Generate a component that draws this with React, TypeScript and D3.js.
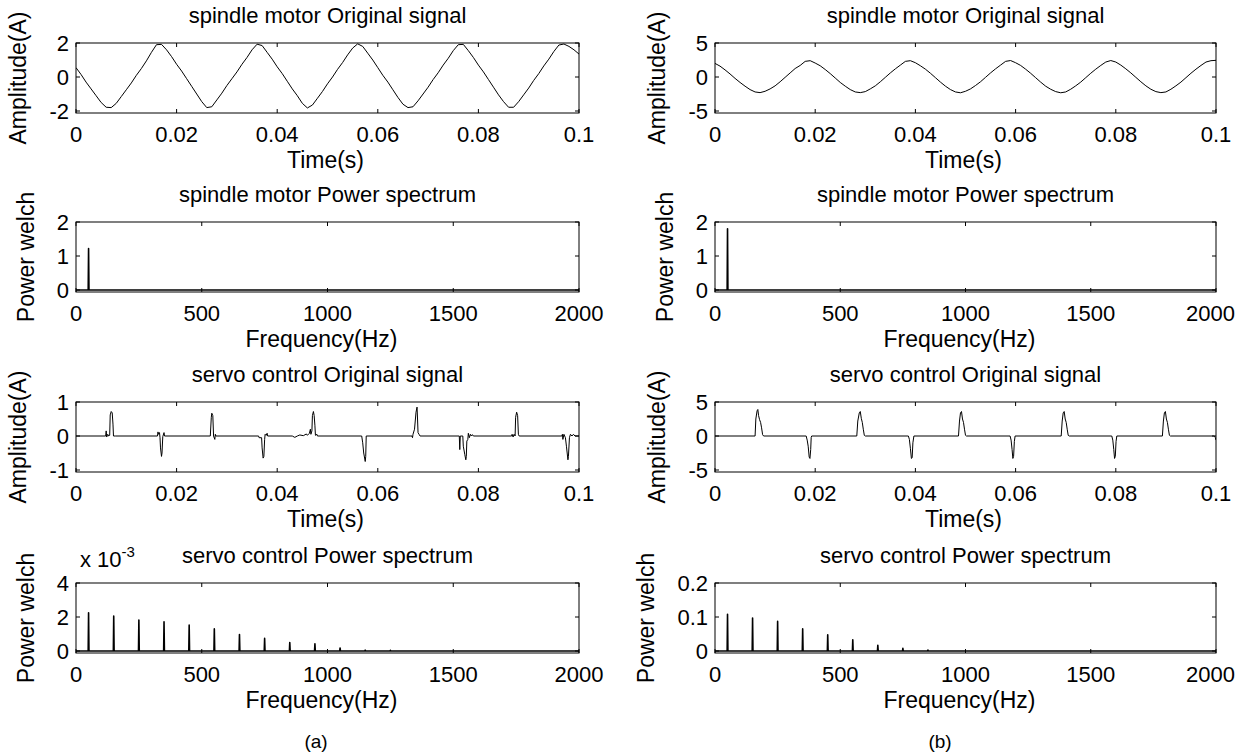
import * as d3 from 'd3'

type Pt = [number, number]

const FONT = '"Liberation Sans", Arial, Helvetica, sans-serif'
const W = 1236, H = 756

// ---- data ----
const sampleStep = 0.001 // s, spindle signals are read every 1 ms

const spindleA = [
  0.55, 0.15, -0.3, -0.7, -1.1, -1.5, -1.78, -1.8, -1.55, -1.15,
  -0.75, -0.35, 0.1, 0.5, 0.95, 1.45, 1.9, 1.92, 1.6, 1.2,
  0.75, 0.35, -0.1, -0.55, -1.0, -1.45, -1.8, -1.75, -1.35, -0.95,
  -0.5, -0.1, 0.3, 0.75, 1.15, 1.6, 1.93, 1.85, 1.45, 1.05,
  0.6, 0.2, -0.25, -0.7, -1.1, -1.55, -1.82, -1.65, -1.25, -0.85,
  -0.4, 0.0, 0.45, 0.85, 1.3, 1.7, 1.95, 1.8, 1.4, 1.0,
  0.55, 0.1, -0.3, -0.75, -1.2, -1.6, -1.8, -1.75, -1.4, -1.0,
  -0.6, -0.15, 0.25, 0.7, 1.1, 1.55, 1.9, 1.92, 1.55, 1.15,
  0.7, 0.3, -0.15, -0.6, -1.05, -1.45, -1.78, -1.78, -1.45, -1.05,
  -0.65, -0.2, 0.2, 0.65, 1.05, 1.5, 1.88, 1.94, 1.8, 1.6,
  1.35,
]

const spindleB = [
  2.0, 1.6, 1.05, 0.45, -0.2, -0.8, -1.35, -1.85, -2.2, -2.3,
  -2.1, -1.75, -1.3, -0.7, -0.05, 0.6, 1.25, 1.7, 2.3, 2.4,
  2.05, 1.65, 1.1, 0.5, -0.15, -0.8, -1.35, -1.85, -2.2, -2.3,
  -2.15, -1.75, -1.3, -0.7, -0.05, 0.6, 1.2, 1.75, 2.3, 2.4,
  2.1, 1.65, 1.15, 0.55, -0.1, -0.75, -1.35, -1.85, -2.2, -2.32,
  -2.1, -1.75, -1.25, -0.7, -0.05, 0.6, 1.2, 1.75, 2.3, 2.42,
  2.1, 1.7, 1.15, 0.55, -0.1, -0.75, -1.35, -1.8, -2.15, -2.32,
  -2.2, -1.8, -1.3, -0.75, -0.1, 0.55, 1.15, 1.7, 2.2, 2.42,
  2.2, 1.75, 1.2, 0.6, -0.05, -0.7, -1.3, -1.8, -2.15, -2.3,
  -2.2, -1.8, -1.3, -0.75, -0.1, 0.55, 1.15, 1.7, 2.2, 2.4,
  2.45,
]

// servo current, [time ms, amplitude A]
const servoA: Pt[] = [
  [0, 0], [5.9, 0], [6.0, 0.15], [6.1, -0.03], [6.3, 0.05], [6.5, 0], [6.7, 0.02], [6.8, 0.62], [7.0, 0.72], [7.2, 0.68], [7.35, 0.35], [7.45, 0], [7.8, 0],
  [16.2, 0], [16.3, 0.12], [16.4, 0.05], [16.6, 0.1], [16.7, -0.05], [16.8, -0.35], [17.0, -0.6], [17.1, -0.5], [17.25, -0.02], [17.5, 0.1], [17.6, 0],
  [26.7, 0], [26.9, 0.55], [27.0, 0.67], [27.2, 0.6], [27.35, 0], [27.6, -0.1], [27.7, 0.05], [27.8, 0],
  [36.3, 0], [36.4, -0.05], [36.9, -0.05], [37.0, -0.35], [37.2, -0.65], [37.35, -0.6], [37.5, -0.1], [37.6, 0.05], [37.8, 0.02], [38.0, 0.08], [38.1, 0],
  [43.0, 0], [43.5, -0.04], [44.0, 0], [44.5, 0.03], [45.2, 0.01], [45.8, 0.06], [46.0, 0.02], [46.4, 0.08],
  [46.6, 0.2], [46.7, 0.05], [46.9, 0.15], [47.0, 0.6], [47.2, 0.72], [47.35, 0.6], [47.5, 0.3], [47.6, 0.02], [47.9, 0.05], [48.0, 0],
  [56.8, 0], [57.0, -0.2], [57.2, -0.5], [57.5, -0.75], [57.6, -0.6], [57.7, 0],
  [66.8, 0], [66.9, -0.05], [67.0, 0.05], [67.3, 0.2], [67.6, 0.7], [67.8, 0.85], [67.9, 0.5], [68.0, 0.1], [68.2, 0.05], [68.4, 0],
  [76.2, 0], [76.3, -0.4], [76.4, 0], [76.9, 0], [77.0, -0.3], [77.3, -0.55], [77.5, -0.7], [77.6, -0.6], [77.7, -0.15], [77.9, -0.1], [78.0, 0.08], [78.2, -0.05], [78.4, 0.05], [78.6, 0], [78.8, 0.04], [79.0, 0],
  [86.6, 0], [86.7, 0.05], [86.9, -0.03], [87.1, 0.05], [87.3, 0], [87.4, 0.55], [87.6, 0.7], [87.8, 0.6], [87.95, 0.05], [88.1, 0],
  [96.6, 0], [96.7, 0.05], [96.8, -0.1], [97.0, 0.05], [97.3, -0.05], [97.5, -0.3], [97.8, -0.7], [97.9, -0.6], [98.1, -0.05], [98.3, 0.05], [98.6, 0], [98.9, 0.05], [99.2, 0], [100, 0],
]

const servoB: Pt[] = [
  [0, 0], [8.0, 0], [8.15, 2.5], [8.4, 3.7], [8.55, 3.9], [8.7, 3.0], [8.9, 2.4], [9.1, 2.0], [9.3, 1.2], [9.5, 0.2], [9.7, 0],
  [18.2, 0], [18.4, -0.6], [18.6, -1.5], [18.8, -3.1], [18.95, -3.3], [19.1, -2.0], [19.2, -0.2], [19.3, 0],
  [28.3, 0], [28.5, 2.2], [28.8, 3.4], [29.0, 3.6], [29.2, 2.6], [29.4, 2.0], [29.6, 1.0], [29.8, 0.1], [30.0, 0],
  [38.6, 0], [38.8, -0.5], [39.0, -1.8], [39.2, -3.3], [39.35, -3.2], [39.5, -1.0], [39.7, 0],
  [48.6, 0], [48.8, 2.2], [49.0, 3.4], [49.2, 3.6], [49.4, 2.5], [49.6, 2.0], [49.8, 1.0], [50.0, 0.1], [50.2, 0],
  [58.9, 0], [59.1, -0.6], [59.3, -2.0], [59.45, -3.3], [59.6, -3.0], [59.75, -0.8], [59.9, 0],
  [69.1, 0], [69.3, 2.2], [69.5, 3.4], [69.7, 3.6], [69.9, 2.5], [70.1, 2.0], [70.3, 1.0], [70.5, 0.1], [70.7, 0],
  [79.2, 0], [79.4, -0.6], [79.6, -2.0], [79.75, -3.3], [79.9, -3.0], [80.05, -0.8], [80.2, 0],
  [89.3, 0], [89.5, 2.2], [89.7, 3.4], [89.9, 3.6], [90.1, 2.5], [90.3, 2.0], [90.5, 1.0], [90.7, 0.1], [90.9, 0],
  [99.7, 0], [99.85, -0.2], [100, -0.6],
]

// Welch power spectra
const spindlePeakHz = [50]
const spindlePowerA = [1.22]
const spindlePowerB = [1.8]

const servoHzA = [50, 150, 250, 350, 450, 550, 650, 750, 850, 950, 1050, 1150, 1250]
const servoPowerA = [2.25e-3, 2.05e-3, 1.82e-3, 1.72e-3, 1.52e-3, 1.3e-3, 0.97e-3, 0.74e-3, 0.5e-3, 0.42e-3, 0.18e-3, 0.05e-3, 0.04e-3]
const servoHzB = [50, 150, 250, 350, 450, 550, 650, 750, 850]
const servoPowerB = [0.108, 0.097, 0.087, 0.065, 0.048, 0.033, 0.017, 0.008, 0.003]

const timeTicks = [0, 0.02, 0.04, 0.06, 0.08, 0.1]
const freqTicks = [0, 500, 1000, 1500, 2000]

// ---- layout ----
const colLeft = [76, 715]
const colWidth = [503, 501]
const rowTop = [43, 222, 402, 583]
const boxH = 70
const tickFs = 22
const labelFs = 23
const titleFs = 22
const captionX = [316, 940]

const sampled = (vals: number[]): Pt[] => vals.map((v, i) => [i * sampleStep, v])
const fromMs = (pts: Pt[]): Pt[] => pts.map(([ms, v]) => [ms / 1000, v])
const spectrum = (hz: number[], p: number[]): Pt[] => {
  const pts: Pt[] = [[0, 0]]
  hz.forEach((f, i) => { pts.push([f - 1.5, 0], [f, p[i]], [f + 1.5, 0]) })
  pts.push([2000, 0])
  return pts
}

const charW = (c: string) => (c === '.' ? 0.278 : c === '-' ? 0.333 : 0.556)
const textW = (s: string, fs: number) => s.split('').reduce((a, c) => a + charW(c), 0) * fs

const fmtNum = (v: number) => String(+v.toFixed(3))

type PanelProps = {
  id: string
  col: number
  row: number
  xDomain: [number, number]
  yDomain: [number, number]
  xTicks: number[]
  yTicks: number[]
  yFormat?: (v: number) => string
  title: string
  xLabel: string
  yLabel: string
  points: Pt[]
  lineWidth: number
  exponent?: string
}

const Panel = ({ id, col, row, xDomain, yDomain, xTicks, yTicks, yFormat = fmtNum, title, xLabel, yLabel, points, lineWidth, exponent }: PanelProps) => {
  const left = colLeft[col], width = colWidth[col], top = rowTop[row]
  const bottom = top + boxH
  const x = d3.scaleLinear().domain(xDomain).range([left, left + width])
  const y = d3.scaleLinear().domain(yDomain).range([bottom - 2, top])
  const line = d3.line<Pt>().x(d => x(d[0])).y(d => y(d[1]))
  const yLabels = yTicks.map(yFormat)
  const maxW = Math.max(...yLabels.map(s => textW(s, tickFs)))
  const ylX = left - 7 - maxW - 23
  const cx = left + width / 2
  // the frequency label sits a little left of centre in the figure
  const xlX = xLabel.startsWith('Freq') ? cx - 6 : cx - 2

  return (
    <g>
      <defs>
        <clipPath id={id}>
          <rect x={left} y={top} width={width} height={boxH} />
        </clipPath>
      </defs>
      <path d={line(points) ?? ''} fill='none' stroke='#000' strokeWidth={lineWidth} clipPath={`url(#${id})`} strokeLinejoin='round' />
      <rect x={left} y={top} width={width} height={boxH} fill='none' stroke='#000' strokeWidth={1} />
      {xTicks.map(t => {
        const s = fmtNum(t)
        const half = textW(s, tickFs) / 2
        const lx = Math.min(x(t), W - half - 1)
        return (
          <g key={'x' + t}>
            <line x1={x(t)} x2={x(t)} y1={bottom} y2={bottom - 4} stroke='#000' />
            <line x1={x(t)} x2={x(t)} y1={top} y2={top + 4} stroke='#000' />
            <text x={lx} y={bottom + 29} textAnchor='middle' fontSize={tickFs}>{s}</text>
          </g>
        )
      })}
      {yTicks.map((t, i) => (
        <g key={'y' + t}>
          <line x1={left} x2={left + 4} y1={y(t)} y2={y(t)} stroke='#000' />
          <line x1={left + width} x2={left + width - 4} y1={y(t)} y2={y(t)} stroke='#000' />
          <text x={left - 7} y={y(t)} dy='0.36em' textAnchor='end' fontSize={tickFs}>{yLabels[i]}</text>
        </g>
      ))}
      <text x={cx} y={top - 20} textAnchor='middle' fontSize={titleFs}>{title}</text>
      <text x={xlX} y={bottom + 55} textAnchor='middle' fontSize={labelFs}>{xLabel}</text>
      <text transform={`translate(${ylX}, ${top + boxH / 2}) rotate(-90)`} textAnchor='middle' fontSize={labelFs}>{yLabel}</text>
      {exponent && (
        <text x={left + 4} y={top - 16} fontSize={titleFs}>
          x 10<tspan dy={-10} fontSize={15}>{exponent}</tspan>
        </text>
      )}
    </g>
  )
}

export default function App() {
  const milli = (v: number) => fmtNum(v * 1000)
  return (
    <svg width={W} height={H} style={{ position: 'absolute', left: 0, top: 0, background: '#fff' }} fontFamily={FONT} fill='#000'>
      <Panel id='c1' col={0} row={0} xDomain={[0, 0.1]} yDomain={[-2, 2]} xTicks={timeTicks} yTicks={[-2, 0, 2]}
        title='spindle motor Original signal' xLabel='Time(s)' yLabel='Amplitude(A)' points={sampled(spindleA)} lineWidth={1} />
      <Panel id='c2' col={0} row={1} xDomain={[0, 2000]} yDomain={[0, 2]} xTicks={freqTicks} yTicks={[0, 1, 2]}
        title='spindle motor Power spectrum' xLabel='Frequency(Hz)' yLabel='Power welch' points={spectrum(spindlePeakHz, spindlePowerA)} lineWidth={1.6} />
      <Panel id='c3' col={0} row={2} xDomain={[0, 0.1]} yDomain={[-1, 1]} xTicks={timeTicks} yTicks={[-1, 0, 1]}
        title='servo control Original signal' xLabel='Time(s)' yLabel='Amplitude(A)' points={fromMs(servoA)} lineWidth={1} />
      <Panel id='c4' col={0} row={3} xDomain={[0, 2000]} yDomain={[0, 4e-3]} xTicks={freqTicks} yTicks={[0, 2e-3, 4e-3]} yFormat={milli}
        title='servo control Power spectrum' xLabel='Frequency(Hz)' yLabel='Power welch' points={spectrum(servoHzA, servoPowerA)} lineWidth={1.6} exponent='-3' />

      <Panel id='c5' col={1} row={0} xDomain={[0, 0.1]} yDomain={[-5, 5]} xTicks={timeTicks} yTicks={[-5, 0, 5]}
        title='spindle motor Original signal' xLabel='Time(s)' yLabel='Amplitude(A)' points={sampled(spindleB)} lineWidth={1} />
      <Panel id='c6' col={1} row={1} xDomain={[0, 2000]} yDomain={[0, 2]} xTicks={freqTicks} yTicks={[0, 1, 2]}
        title='spindle motor Power spectrum' xLabel='Frequency(Hz)' yLabel='Power welch' points={spectrum(spindlePeakHz, spindlePowerB)} lineWidth={1.6} />
      <Panel id='c7' col={1} row={2} xDomain={[0, 0.1]} yDomain={[-5, 5]} xTicks={timeTicks} yTicks={[-5, 0, 5]}
        title='servo control Original signal' xLabel='Time(s)' yLabel='Amplitude(A)' points={fromMs(servoB)} lineWidth={1} />
      <Panel id='c8' col={1} row={3} xDomain={[0, 2000]} yDomain={[0, 0.2]} xTicks={freqTicks} yTicks={[0, 0.1, 0.2]}
        title='servo control Power spectrum' xLabel='Frequency(Hz)' yLabel='Power welch' points={spectrum(servoHzB, servoPowerB)} lineWidth={1.6} />

      <text x={captionX[0]} y={748} textAnchor='middle' fontSize={19}>(a)</text>
      <text x={captionX[1]} y={748} textAnchor='middle' fontSize={19}>(b)</text>
    </svg>
  )
}
